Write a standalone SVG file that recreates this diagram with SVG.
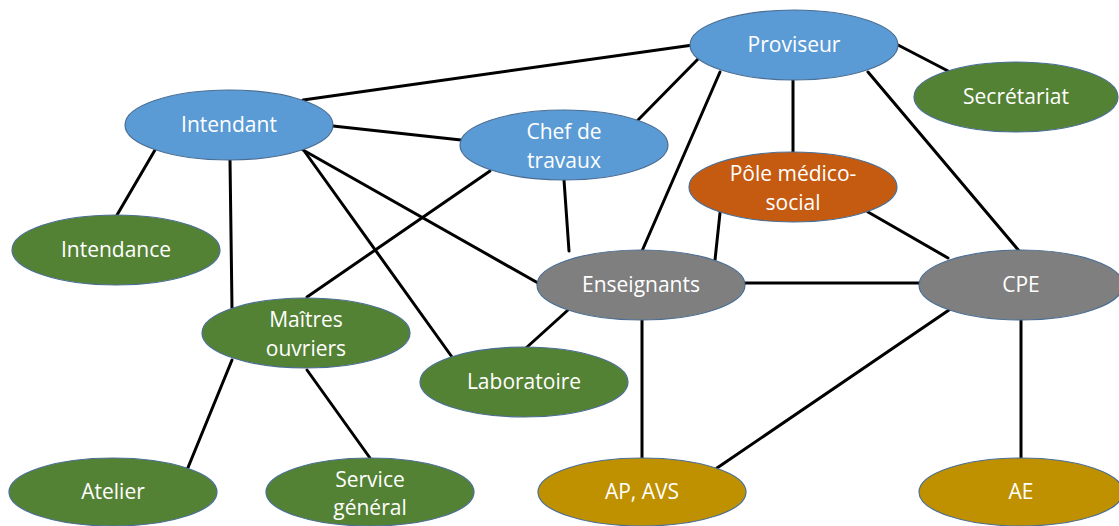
<svg xmlns="http://www.w3.org/2000/svg" width="1119" height="526" viewBox="0 0 1119 526">
<style>
.n{stroke:#4a6e94;stroke-width:1.2}
.blue{fill:#5b9bd5}
.green{fill:#548235}
.orange{fill:#c55a11}
.gray{fill:#7f7f7f}
.gold{fill:#bf9000}
text{font-family:"Open Sans","Liberation Sans",sans-serif;font-size:21px;fill:#ffffff;text-anchor:middle}
#edges line{stroke:#000;stroke-width:3;stroke-linecap:round}
</style>
<rect width="1119" height="526" fill="#ffffff"/>
<g id="edges">
<line x1="303" y1="100" x2="693" y2="45"/>
<line x1="638" y1="120" x2="700" y2="57"/>
<line x1="898" y1="45" x2="950" y2="72"/>
<line x1="793" y1="80" x2="793" y2="152"/>
<line x1="720" y1="72" x2="642" y2="251"/>
<line x1="868" y1="72" x2="1020" y2="252"/>
<line x1="333" y1="126" x2="461" y2="140"/>
<line x1="155" y1="150" x2="117" y2="215"/>
<line x1="230" y1="160" x2="232" y2="308"/>
<line x1="303" y1="150" x2="538" y2="283"/>
<line x1="305" y1="152" x2="452" y2="357"/>
<line x1="490" y1="171" x2="307" y2="297"/>
<line x1="564" y1="180" x2="569" y2="251"/>
<line x1="720" y1="213" x2="715" y2="260"/>
<line x1="868" y1="212" x2="948" y2="258"/>
<line x1="745" y1="283" x2="919" y2="283"/>
<line x1="568" y1="310" x2="526" y2="348"/>
<line x1="642" y1="320" x2="642" y2="458"/>
<line x1="949" y1="310" x2="717" y2="468"/>
<line x1="1021" y1="320" x2="1021" y2="458"/>
<line x1="232" y1="360" x2="187" y2="470"/>
<line x1="307" y1="370" x2="370" y2="458"/>
</g>
<g id="proviseur"><ellipse class="n blue" cx="794" cy="45" rx="104" ry="35"/><text x="794" y="52">Proviseur</text></g>
<g id="secretariat"><ellipse class="n green" cx="1016" cy="97" rx="102" ry="35"/><text x="1016" y="104">Secrétariat</text></g>
<g id="intendant"><ellipse class="n blue" cx="229" cy="125" rx="104" ry="35"/><text x="229" y="132">Intendant</text></g>
<g id="chef"><ellipse class="n blue" cx="564" cy="145" rx="104" ry="35"/><text x="564" y="139">Chef de</text><text x="564" y="168">travaux</text></g>
<g id="pole"><ellipse class="n orange" cx="793" cy="187" rx="104" ry="35"/><text x="793" y="181">Pôle médico-</text><text x="793" y="210">social</text></g>
<g id="intendance"><ellipse class="n green" cx="116" cy="250" rx="104" ry="35"/><text x="116" y="257">Intendance</text></g>
<g id="enseignants"><ellipse class="n gray" cx="641" cy="285" rx="104" ry="35"/><text x="641" y="292">Enseignants</text></g>
<g id="cpe"><ellipse class="n gray" cx="1021" cy="285" rx="102" ry="35"/><text x="1021" y="292">CPE</text></g>
<g id="maitres"><ellipse class="n green" cx="306" cy="333" rx="104" ry="35"/><text x="306" y="327">Maîtres</text><text x="306" y="356">ouvriers</text></g>
<g id="laboratoire"><ellipse class="n green" cx="524" cy="382" rx="104" ry="35"/><text x="524" y="389">Laboratoire</text></g>
<g id="atelier"><ellipse class="n green" cx="113" cy="492" rx="104" ry="34"/><text x="113" y="499">Atelier</text></g>
<g id="service"><ellipse class="n green" cx="370" cy="492" rx="104" ry="34"/><text x="370" y="487">Service</text><text x="370" y="515">général</text></g>
<g id="apavs"><ellipse class="n gold" cx="642" cy="492" rx="104" ry="34"/><text x="642" y="499">AP, AVS</text></g>
<g id="ae"><ellipse class="n gold" cx="1021" cy="492" rx="102" ry="34"/><text x="1021" y="499">AE</text></g>
</svg>
